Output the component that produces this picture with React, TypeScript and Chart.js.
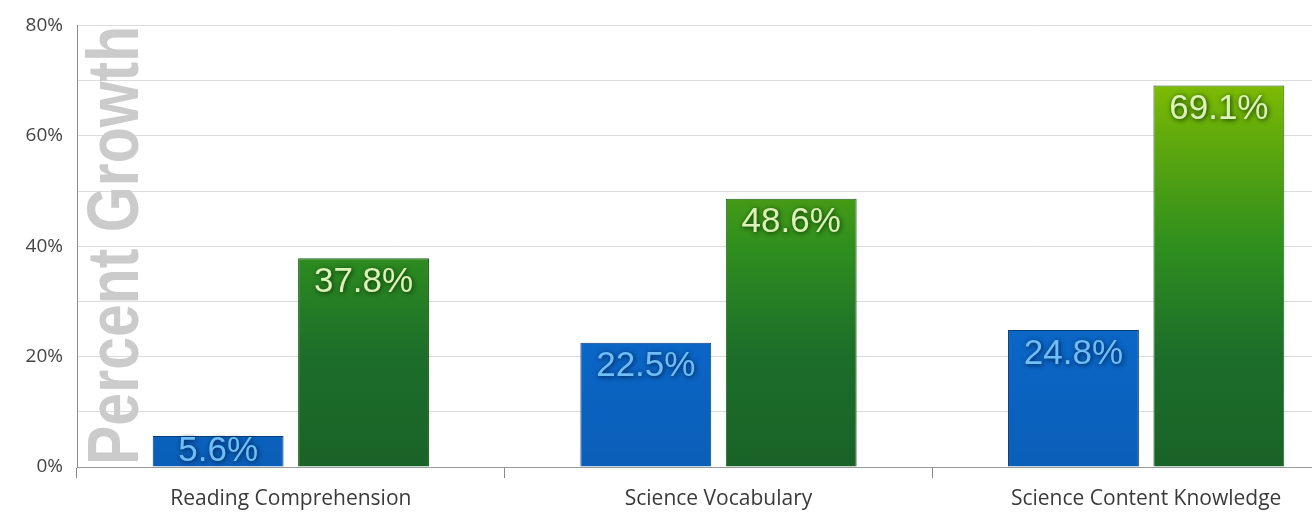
import React, { useEffect, useRef } from "react";
import { Chart, registerables } from "chart.js";

Chart.register(...registerables);

const categories = ["Reading Comprehension", "Science Vocabulary", "Science Content Knowledge"];
const seriesBlue = [5.6, 22.5, 24.8];
const seriesGreen = [37.8, 48.6, 69.1];
const yTickLabels = ["0%", "", "20%", "", "40%", "", "60%", "", "80%"];
const yTitle = "Percent Growth";

const AXIS_W = 77;
const TOP = 19;
const BOTTOM_H = 47;

const valueLabels = {
  id: "valueLabels",
  afterDatasetsDraw(chart: any) {
    const ctx = chart.ctx;
    chart.data.datasets.forEach((ds: any, di: number) => {
      const meta = chart.getDatasetMeta(di);
      meta.data.forEach((bar: any, i: number) => {
        const v = ds.data[i];
        const top = bar.y;
        const bottom = bar.base;
        const y = Math.min(top + 24, (top + bottom) / 2);
        ctx.save();
        ctx.font = "35px 'Liberation Sans', Arial, sans-serif";
        ctx.textAlign = "center";
        ctx.textBaseline = "middle";
        ctx.shadowColor = di === 0 ? "rgba(0,25,70,0.95)" : "rgba(10,45,0,1)";
        ctx.shadowBlur = 5;
        ctx.shadowOffsetX = 1;
        ctx.shadowOffsetY = 1;
        ctx.fillStyle = di === 0 ? "#6fbff6" : "#dcf3b8";
        ctx.translate(bar.x, y);
        ctx.fillText(v.toFixed(1) + "%", 0, 0);
        ctx.restore();
      });
    });
  },
};

const watermark = {
  id: "watermark",
  beforeDatasetsDraw(chart: any) {
    const ctx = chart.ctx;
    const area = chart.chartArea;
    ctx.save();
    ctx.translate(area.left + 61, area.bottom - 2);
    ctx.rotate(-Math.PI / 2);
    ctx.scale(1, 1.22);
    ctx.font = "bold 59px 'Liberation Sans', Arial, sans-serif";
    ctx.fillStyle = "#cbcbcb";
    ctx.textAlign = "left";
    ctx.textBaseline = "alphabetic";
    ctx.fillText(yTitle, 0, 0);
    ctx.restore();
  },
};

export default function App() {
  const ref = useRef<HTMLCanvasElement>(null);
  useEffect(() => {
    const canvas = ref.current!;
    const ctx = canvas.getContext("2d")!;
    const greenGrad = (c: any) => {
      const area = c.chart.chartArea;
      if (!area) return "#2e8b1e";
      const g = ctx.createLinearGradient(0, area.bottom, 0, area.top);
      g.addColorStop(0, "#1a6328");
      g.addColorStop(0.25, "#1c6d2a");
      g.addColorStop(0.5, "#2f8f1e");
      g.addColorStop(0.75, "#62aa0c");
      g.addColorStop(0.9, "#86c000");
      g.addColorStop(1, "#8cc400");
      return g;
    };
    const blueGrad = (c: any) => {
      const area = c.chart.chartArea;
      if (!area) return "#0b66c4";
      const g = ctx.createLinearGradient(0, area.bottom, 0, area.top);
      g.addColorStop(0, "#0a5fb8");
      g.addColorStop(0.3, "#0b66c6");
      g.addColorStop(1, "#1a80dc");
      return g;
    };
    const chart = new Chart(canvas, {
      type: "bar",
      data: {
        labels: categories,
        datasets: [
          {
            data: seriesBlue,
            backgroundColor: blueGrad,
            borderColor: "#0a3d7a",
            borderWidth: 1,
            barPercentage: 0.9,
            categoryPercentage: 0.68,
          },
          {
            data: seriesGreen,
            backgroundColor: greenGrad,
            borderColor: "#1d5a1d",
            borderWidth: 1,
            barPercentage: 0.9,
            categoryPercentage: 0.68,
          },
        ],
      },
      options: {
        animation: false,
        responsive: false,
        maintainAspectRatio: false,
        layout: { padding: { top: TOP, left: 0, right: 0, bottom: 0 } },
        plugins: { legend: { display: false }, tooltip: { enabled: false } },
        scales: {
          x: {
            offset: true,
            grid: {
              offset: true,
              drawOnChartArea: false,
              drawTicks: true,
              tickLength: 11,
              color: "#8a8a8a",
            },
            border: { color: "#9a9a9a", width: 1 },
            ticks: {
              color: "#3a3a3a",
              font: { family: "'Open Sans', Lato, sans-serif", size: 21 },
              padding: 8,
              maxRotation: 0,
              autoSkip: false,
            },
            afterFit(scale: any) {
              scale.height = BOTTOM_H;
            },
          },
          y: {
            min: 0,
            max: 80,
            grid: { color: "#dcdcdc", drawTicks: false },
            border: { color: "#8a8a8a", width: 1 },
            ticks: {
              stepSize: 10,
              padding: 14,
              color: "#444444",
              font: { family: "'Open Sans', Lato, sans-serif", size: 19 },
              callback: (_v: any, i: number) => yTickLabels[i],
            },
            afterFit(scale: any) {
              scale.width = AXIS_W;
            },
          },
        },
      },
      plugins: [watermark, valueLabels],
    });
    return () => chart.destroy();
  }, []);
  return (
    <div style={{ position: "fixed", left: 0, top: 0, width: 1312, height: 514, overflow: "hidden", background: "#fff" }}>
      <canvas ref={ref} width={1360} height={514} style={{ display: "block", width: 1360, height: 514 }} />
    </div>
  );
}
